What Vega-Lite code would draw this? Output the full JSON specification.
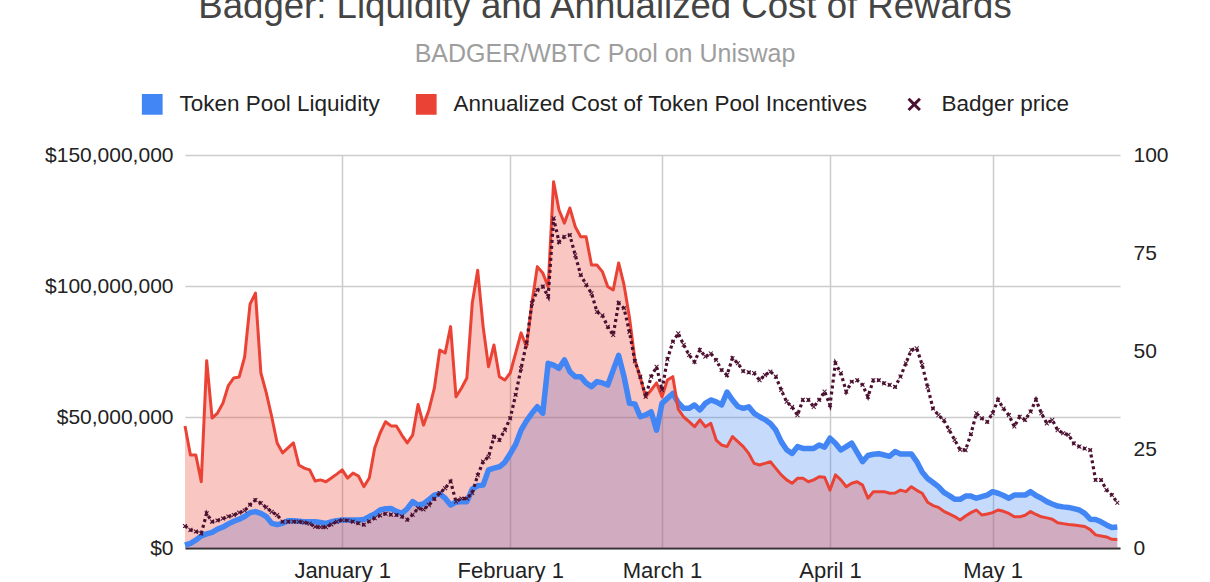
{
  "$schema": "https://vega.github.io/schema/vega-lite/v6.json",
  "width": 935,
  "height": 393,
  "autosize": {"type": "none"},
  "padding": {"left": 185, "top": 155, "right": 90, "bottom": 34},
  "background": "white",
  "config": {
    "font": "Liberation Sans",
    "view": {"stroke": null},
    "legend": {
      "title": null,
      "orient": "none",
      "legendX": -44,
      "legendY": -62,
      "direction": "horizontal",
      "symbolSize": 430,
      "labelFontSize": 22.5,
      "labelLimit": 0,
      "labelColor": "#222222",
      "labelOffset": 16,
      "columnPadding": 35,
      "symbolStrokeWidth": 0,
      "symbolOpacity": 1
    }
  },
  "title": {
    "text": "Badger: Liquidity and Annualized Cost of Rewards",
    "subtitle": "BADGER/WBTC Pool on Uniswap",
    "frame": "group",
    "anchor": "middle",
    "dx": -47.5,
    "offset": 26,
    "fontSize": 36.6,
    "fontWeight": "normal",
    "color": "#444444",
    "subtitleFontSize": 25,
    "subtitleColor": "#9e9e9e",
    "subtitlePadding": 16
  },
  "data": {"values": [
    {"date":"2020-12-03","liq":1.1,"cost":46.6,"price":5.6},
    {"date":"2020-12-04","liq":1.8,"cost":35.5,"price":4.6},
    {"date":"2020-12-05","liq":3.0,"cost":35.5,"price":4.2},
    {"date":"2020-12-06","liq":4.6,"cost":25.3,"price":3.7},
    {"date":"2020-12-07","liq":5.4,"cost":71.5,"price":8.8},
    {"date":"2020-12-08","liq":6.0,"cost":49.6,"price":6.7},
    {"date":"2020-12-09","liq":7.2,"cost":51.5,"price":7.0},
    {"date":"2020-12-10","liq":8.0,"cost":55.3,"price":7.5},
    {"date":"2020-12-11","liq":9.2,"cost":62.0,"price":8.0},
    {"date":"2020-12-12","liq":10.2,"cost":64.9,"price":8.4},
    {"date":"2020-12-13","liq":11.0,"cost":65.3,"price":9.0},
    {"date":"2020-12-14","liq":12.0,"cost":72.9,"price":9.5},
    {"date":"2020-12-15","liq":13.5,"cost":93.1,"price":11.0},
    {"date":"2020-12-16","liq":13.9,"cost":97.3,"price":12.2},
    {"date":"2020-12-17","liq":13.2,"cost":66.8,"price":11.4},
    {"date":"2020-12-18","liq":12.0,"cost":59.2,"price":10.3},
    {"date":"2020-12-19","liq":9.4,"cost":50.1,"price":9.2},
    {"date":"2020-12-20","liq":8.9,"cost":40.1,"price":8.4},
    {"date":"2020-12-21","liq":9.4,"cost":36.3,"price":6.7},
    {"date":"2020-12-22","liq":10.4,"cost":38.2,"price":6.7},
    {"date":"2020-12-23","liq":10.4,"cost":40.1,"price":6.7},
    {"date":"2020-12-24","liq":10.2,"cost":31.7,"price":6.7},
    {"date":"2020-12-25","liq":10.0,"cost":30.5,"price":6.5},
    {"date":"2020-12-26","liq":10.0,"cost":29.8,"price":6.2},
    {"date":"2020-12-27","liq":10.0,"cost":25.6,"price":5.4},
    {"date":"2020-12-28","liq":9.7,"cost":26.0,"price":5.3},
    {"date":"2020-12-29","liq":9.4,"cost":25.3,"price":5.3},
    {"date":"2020-12-30","liq":10.0,"cost":26.7,"price":6.0},
    {"date":"2020-12-31","liq":10.4,"cost":28.2,"price":6.7},
    {"date":"2021-01-01","liq":10.7,"cost":29.8,"price":7.1},
    {"date":"2021-01-02","liq":10.7,"cost":26.7,"price":7.0},
    {"date":"2021-01-03","liq":10.7,"cost":28.6,"price":6.7},
    {"date":"2021-01-04","liq":10.7,"cost":27.5,"price":6.3},
    {"date":"2021-01-05","liq":10.9,"cost":23.4,"price":5.9},
    {"date":"2021-01-06","liq":12.0,"cost":26.7,"price":6.8},
    {"date":"2021-01-07","liq":13.0,"cost":38.2,"price":7.6},
    {"date":"2021-01-08","liq":14.5,"cost":43.9,"price":8.3},
    {"date":"2021-01-09","liq":15.0,"cost":48.2,"price":8.7},
    {"date":"2021-01-10","liq":15.1,"cost":46.6,"price":8.5},
    {"date":"2021-01-11","liq":14.0,"cost":46.6,"price":8.4},
    {"date":"2021-01-12","liq":13.2,"cost":43.1,"price":8.0},
    {"date":"2021-01-13","liq":15.0,"cost":40.1,"price":7.2},
    {"date":"2021-01-14","liq":17.7,"cost":43.1,"price":8.5},
    {"date":"2021-01-15","liq":16.4,"cost":54.8,"price":10.1},
    {"date":"2021-01-16","liq":16.8,"cost":46.9,"price":9.8},
    {"date":"2021-01-17","liq":18.5,"cost":52.7,"price":10.9},
    {"date":"2021-01-18","liq":20.2,"cost":61.0,"price":12.5},
    {"date":"2021-01-19","liq":20.7,"cost":75.6,"price":14.0},
    {"date":"2021-01-20","liq":19.0,"cost":74.4,"price":15.2},
    {"date":"2021-01-21","liq":16.4,"cost":84.5,"price":16.9},
    {"date":"2021-01-22","liq":17.5,"cost":57.7,"price":11.8},
    {"date":"2021-01-23","liq":17.7,"cost":61.0,"price":12.6},
    {"date":"2021-01-24","liq":17.7,"cost":64.9,"price":12.6},
    {"date":"2021-01-25","liq":22.5,"cost":93.5,"price":14.0},
    {"date":"2021-01-26","liq":23.8,"cost":106.0,"price":18.5},
    {"date":"2021-01-27","liq":24.0,"cost":84.5,"price":22.0},
    {"date":"2021-01-28","liq":29.8,"cost":69.2,"price":23.2},
    {"date":"2021-01-29","liq":30.5,"cost":77.5,"price":28.3},
    {"date":"2021-01-30","liq":31.0,"cost":65.4,"price":27.5},
    {"date":"2021-01-31","liq":32.7,"cost":64.1,"price":30.0},
    {"date":"2021-02-01","liq":36.0,"cost":66.8,"price":33.0},
    {"date":"2021-02-02","liq":39.5,"cost":74.4,"price":39.0},
    {"date":"2021-02-03","liq":45.0,"cost":82.1,"price":45.7},
    {"date":"2021-02-04","liq":48.5,"cost":76.8,"price":52.1},
    {"date":"2021-02-05","liq":51.4,"cost":93.5,"price":62.3},
    {"date":"2021-02-06","liq":53.9,"cost":107.4,"price":65.6},
    {"date":"2021-02-07","liq":51.4,"cost":105.0,"price":66.5},
    {"date":"2021-02-08","liq":70.5,"cost":99.7,"price":64.0},
    {"date":"2021-02-09","liq":69.8,"cost":139.8,"price":83.9},
    {"date":"2021-02-10","liq":68.6,"cost":129.0,"price":77.9},
    {"date":"2021-02-11","liq":71.8,"cost":124.0,"price":79.2},
    {"date":"2021-02-12","liq":67.3,"cost":129.8,"price":79.6},
    {"date":"2021-02-13","liq":65.4,"cost":122.6,"price":74.5},
    {"date":"2021-02-14","liq":65.4,"cost":118.8,"price":69.5},
    {"date":"2021-02-15","liq":63.0,"cost":118.8,"price":67.0},
    {"date":"2021-02-16","liq":61.6,"cost":108.0,"price":64.8},
    {"date":"2021-02-17","liq":63.5,"cost":108.0,"price":60.1},
    {"date":"2021-02-18","liq":63.0,"cost":105.5,"price":59.2},
    {"date":"2021-02-19","liq":62.2,"cost":99.7,"price":56.3},
    {"date":"2021-02-20","liq":67.9,"cost":98.5,"price":54.2},
    {"date":"2021-02-21","liq":73.5,"cost":108.8,"price":62.3},
    {"date":"2021-02-22","liq":65.4,"cost":100.4,"price":61.0},
    {"date":"2021-02-23","liq":55.2,"cost":88.0,"price":55.0},
    {"date":"2021-02-24","liq":55.0,"cost":71.8,"price":47.5},
    {"date":"2021-02-25","liq":50.1,"cost":65.0,"price":43.6},
    {"date":"2021-02-26","liq":50.8,"cost":57.7,"price":38.5},
    {"date":"2021-02-27","liq":52.0,"cost":60.3,"price":43.6},
    {"date":"2021-02-28","liq":45.0,"cost":63.0,"price":46.1},
    {"date":"2021-03-01","liq":55.2,"cost":57.7,"price":40.2},
    {"date":"2021-03-02","liq":57.1,"cost":64.1,"price":48.0},
    {"date":"2021-03-03","liq":59.0,"cost":65.4,"price":52.5},
    {"date":"2021-03-04","liq":55.5,"cost":53.0,"price":54.6},
    {"date":"2021-03-05","liq":53.3,"cost":50.0,"price":51.7},
    {"date":"2021-03-06","liq":53.3,"cost":48.2,"price":49.1},
    {"date":"2021-03-07","liq":54.6,"cost":46.3,"price":47.4},
    {"date":"2021-03-08","liq":52.7,"cost":48.9,"price":50.4},
    {"date":"2021-03-09","liq":55.2,"cost":46.3,"price":48.7},
    {"date":"2021-03-10","liq":56.5,"cost":47.6,"price":49.5},
    {"date":"2021-03-11","liq":55.8,"cost":41.2,"price":47.8},
    {"date":"2021-03-12","liq":54.6,"cost":39.3,"price":45.3},
    {"date":"2021-03-13","liq":59.5,"cost":38.7,"price":44.0},
    {"date":"2021-03-14","liq":56.5,"cost":42.5,"price":48.3},
    {"date":"2021-03-15","liq":54.0,"cost":40.6,"price":47.0},
    {"date":"2021-03-16","liq":53.3,"cost":38.7,"price":45.0},
    {"date":"2021-03-17","liq":53.9,"cost":36.1,"price":44.7},
    {"date":"2021-03-18","liq":51.4,"cost":32.3,"price":44.5},
    {"date":"2021-03-19","liq":50.1,"cost":31.7,"price":42.7},
    {"date":"2021-03-20","liq":49.0,"cost":32.3,"price":44.0},
    {"date":"2021-03-21","liq":47.5,"cost":32.9,"price":44.9},
    {"date":"2021-03-22","liq":45.0,"cost":30.4,"price":43.6},
    {"date":"2021-03-23","liq":40.6,"cost":27.9,"price":40.2},
    {"date":"2021-03-24","liq":37.5,"cost":26.0,"price":37.2},
    {"date":"2021-03-25","liq":36.1,"cost":24.7,"price":35.9},
    {"date":"2021-03-26","liq":38.7,"cost":26.6,"price":33.8},
    {"date":"2021-03-27","liq":38.0,"cost":26.6,"price":37.7},
    {"date":"2021-03-28","liq":38.0,"cost":25.3,"price":37.7},
    {"date":"2021-03-29","liq":38.0,"cost":26.0,"price":35.9},
    {"date":"2021-03-30","liq":39.3,"cost":27.2,"price":37.7},
    {"date":"2021-03-31","liq":38.5,"cost":27.0,"price":39.8},
    {"date":"2021-04-01","liq":41.9,"cost":22.1,"price":36.4},
    {"date":"2021-04-02","liq":40.0,"cost":27.9,"price":47.0},
    {"date":"2021-04-03","liq":37.4,"cost":26.0,"price":44.5},
    {"date":"2021-04-04","liq":38.7,"cost":23.4,"price":39.8},
    {"date":"2021-04-05","liq":40.0,"cost":24.7,"price":42.3},
    {"date":"2021-04-06","liq":36.5,"cost":25.3,"price":42.7},
    {"date":"2021-04-07","liq":33.0,"cost":24.0,"price":41.5},
    {"date":"2021-04-08","liq":35.3,"cost":19.0,"price":38.5},
    {"date":"2021-04-09","liq":35.8,"cost":21.5,"price":42.7},
    {"date":"2021-04-10","liq":36.0,"cost":21.5,"price":42.7},
    {"date":"2021-04-11","liq":35.5,"cost":21.5,"price":41.9},
    {"date":"2021-04-12","liq":35.0,"cost":20.9,"price":41.5},
    {"date":"2021-04-13","liq":36.8,"cost":21.0,"price":41.0},
    {"date":"2021-04-14","liq":35.9,"cost":22.1,"price":43.6},
    {"date":"2021-04-15","liq":35.9,"cost":21.5,"price":47.0},
    {"date":"2021-04-16","liq":35.9,"cost":23.4,"price":50.4},
    {"date":"2021-04-17","liq":33.0,"cost":22.0,"price":50.8},
    {"date":"2021-04-18","liq":29.0,"cost":20.9,"price":46.6},
    {"date":"2021-04-19","liq":26.5,"cost":17.5,"price":41.0},
    {"date":"2021-04-20","liq":25.0,"cost":16.2,"price":35.5},
    {"date":"2021-04-21","liq":23.4,"cost":15.5,"price":33.8},
    {"date":"2021-04-22","liq":21.2,"cost":14.0,"price":32.5},
    {"date":"2021-04-23","liq":20.0,"cost":13.0,"price":30.0},
    {"date":"2021-04-24","liq":18.6,"cost":12.0,"price":27.5},
    {"date":"2021-04-25","liq":18.6,"cost":10.7,"price":25.0},
    {"date":"2021-04-26","liq":19.8,"cost":12.2,"price":24.9},
    {"date":"2021-04-27","liq":19.8,"cost":13.5,"price":29.0},
    {"date":"2021-04-28","liq":19.0,"cost":14.5,"price":34.3},
    {"date":"2021-04-29","liq":19.6,"cost":12.6,"price":33.0},
    {"date":"2021-04-30","liq":20.2,"cost":13.0,"price":32.1},
    {"date":"2021-05-01","liq":21.5,"cost":13.5,"price":34.3},
    {"date":"2021-05-02","liq":20.9,"cost":14.5,"price":37.7},
    {"date":"2021-05-03","liq":20.0,"cost":14.0,"price":35.5},
    {"date":"2021-05-04","liq":19.0,"cost":13.2,"price":33.8},
    {"date":"2021-05-05","liq":20.2,"cost":11.9,"price":30.9},
    {"date":"2021-05-06","liq":20.2,"cost":11.9,"price":33.4},
    {"date":"2021-05-07","liq":20.2,"cost":12.5,"price":32.6},
    {"date":"2021-05-08","liq":21.5,"cost":13.9,"price":34.7},
    {"date":"2021-05-09","liq":20.0,"cost":12.8,"price":37.7},
    {"date":"2021-05-10","liq":19.0,"cost":11.9,"price":34.3},
    {"date":"2021-05-11","liq":17.7,"cost":11.5,"price":31.7},
    {"date":"2021-05-12","liq":16.8,"cost":11.0,"price":32.6},
    {"date":"2021-05-13","liq":16.0,"cost":9.6,"price":30.0},
    {"date":"2021-05-14","liq":15.7,"cost":9.3,"price":29.2},
    {"date":"2021-05-15","liq":15.5,"cost":9.0,"price":28.8},
    {"date":"2021-05-16","liq":15.0,"cost":8.8,"price":26.6},
    {"date":"2021-05-17","liq":14.5,"cost":8.5,"price":25.8},
    {"date":"2021-05-18","liq":13.2,"cost":8.2,"price":25.3},
    {"date":"2021-05-19","liq":11.0,"cost":7.0,"price":24.9},
    {"date":"2021-05-20","liq":10.9,"cost":5.0,"price":17.3},
    {"date":"2021-05-21","liq":10.0,"cost":4.6,"price":17.3},
    {"date":"2021-05-22","liq":8.8,"cost":4.2,"price":14.8},
    {"date":"2021-05-23","liq":7.8,"cost":3.3,"price":13.5},
    {"date":"2021-05-24","liq":8.0,"cost":3.2,"price":11.5}
  ]},
  "encoding": {
    "x": {
      "field": "date",
      "type": "temporal",
      "scale": {"domain": [{"year": 2020, "month": 12, "date": 3}, {"year": 2021, "month": 5, "date": 24, "hours": 12}]},
      "axis": {
        "title": null,
        "values": [
          {"year": 2021, "month": 1, "date": 1},
          {"year": 2021, "month": 2, "date": 1},
          {"year": 2021, "month": 3, "date": 1},
          {"year": 2021, "month": 4, "date": 1},
          {"year": 2021, "month": 5, "date": 1}
        ],
        "format": "%B %-d",
        "labelFontSize": 22,
        "labelColor": "#222222",
        "labelPadding": 12,
        "labelFlush": false,
        "ticks": false,
        "domainColor": "#333333",
        "domainWidth": 2,
        "grid": true,
        "gridColor": "#cccccc",
        "gridWidth": 1.5
      }
    }
  },
  "layer": [
    {
      "encoding": {
        "y": {
          "type": "quantitative",
          "scale": {"domain": [0, 150], "nice": false},
          "axis": {
            "title": null,
            "values": [0, 50, 100, 150],
            "labelExpr": "'$' + format(datum.value * 1000000, ',')",
            "labelFontSize": 21,
            "labelColor": "#222222",
            "labelPadding": 12,
            "ticks": false,
            "domain": false,
            "gridColor": "#cccccc",
            "gridWidth": 1.5
          }
        }
      },
      "layer": [
        {
          "mark": {"type": "area", "opacity": 0.3},
          "encoding": {
            "y": {"field": "liq", "type": "quantitative"},
            "color": {"datum": "Token Pool Liquidity"}
          }
        },
        {
          "mark": {"type": "area", "opacity": 0.3},
          "encoding": {
            "y": {"field": "cost", "type": "quantitative"},
            "color": {"datum": "Annualized Cost of Token Pool Incentives"}
          }
        },
        {
          "mark": {"type": "line", "strokeWidth": 5.5, "strokeJoin": "round"},
          "encoding": {
            "y": {"field": "liq", "type": "quantitative"},
            "color": {"datum": "Token Pool Liquidity"}
          }
        },
        {
          "mark": {"type": "line", "strokeWidth": 3, "strokeJoin": "round"},
          "encoding": {
            "y": {"field": "cost", "type": "quantitative"},
            "color": {"datum": "Annualized Cost of Token Pool Incentives"}
          }
        }
      ]
    },
    {
      "encoding": {
        "y": {
          "type": "quantitative",
          "scale": {"domain": [0, 100], "nice": false},
          "axis": {
            "title": null,
            "orient": "right",
            "values": [0, 25, 50, 75, 100],
            "labelFontSize": 21,
            "labelColor": "#222222",
            "labelPadding": 13,
            "ticks": false,
            "domain": false,
            "grid": false
          }
        }
      },
      "layer": [
        {
          "mark": {"type": "line", "strokeWidth": 3.2, "strokeDash": [3, 3]},
          "encoding": {
            "y": {"field": "price", "type": "quantitative"},
            "color": {"datum": "Badger price"}
          }
        },
        {
          "mark": {"type": "point", "filled": true, "opacity": 1, "size": 50},
          "encoding": {
            "y": {"field": "price", "type": "quantitative"},
            "color": {
              "datum": "Badger price",
              "scale": {
                "domain": ["Token Pool Liquidity", "Annualized Cost of Token Pool Incentives", "Badger price"],
                "range": ["#4285F4", "#EA4335", "#4C1130"]
              }
            },
            "shape": {
              "datum": "Badger price",
              "scale": {
                "domain": ["Token Pool Liquidity", "Annualized Cost of Token Pool Incentives", "Badger price"],
                "range": ["square", "square", "M-0.65,-0.45L-0.45,-0.65L0,-0.2L0.45,-0.65L0.65,-0.45L0.2,0L0.65,0.45L0.45,0.65L0,0.2L-0.45,0.65L-0.65,0.45L-0.2,0Z"]
              }
            }
          }
        }
      ]
    }
  ],
  "resolve": {"scale": {"y": "independent"}}
}
